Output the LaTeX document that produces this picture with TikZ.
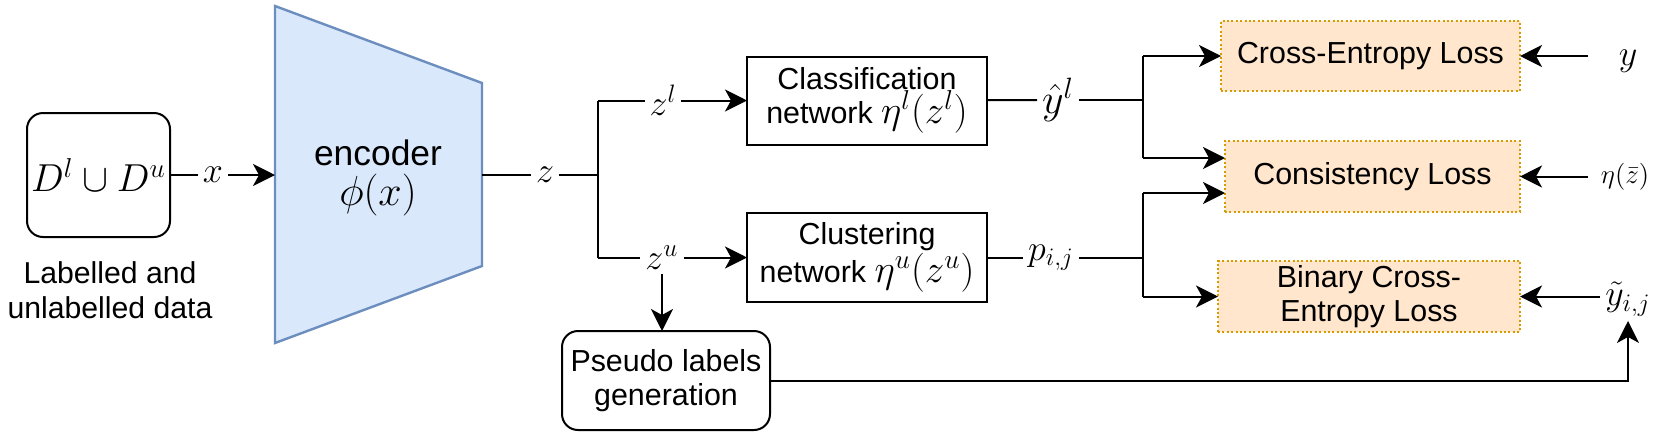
\documentclass[tikz,border=0pt]{standalone}
\usepackage{fix-cm}
\usepackage{amsmath,amssymb}
\usepackage{fontspec}
\setmainfont{Liberation Sans}
\usetikzlibrary{arrows.meta}
\definecolor{encfill}{HTML}{DAE8FC}
\definecolor{encdraw}{HTML}{6C8EBF}
\definecolor{lossfill}{HTML}{FFE6CC}
\definecolor{lossdraw}{HTML}{D79B00}
\newcommand\mth[1]{{\fontsize{19.5}{18}\selectfont$#1$}}
\tikzset{
  box/.style={draw, line width=1pt, inner sep=0pt, outer sep=0pt, align=center},
  rbox/.style={box, rounded corners=8pt},
  loss/.style={box, fill=lossfill, draw=lossdraw, dash pattern=on 1pt off 1.2pt, line width=1.1pt},
  lab/.style={inner sep=2pt, font=\fontsize{18}{20}\selectfont},
}
\begin{document}
\begin{tikzpicture}[x=0.5pt, y=-0.5pt, line width=1pt,
  >={Stealth[length=11pt,width=11pt,inset=3pt]},
  font=\fontsize{15.2}{17}\selectfont]
\useasboundingbox (0,0) rectangle (1659,435);
% data
\node[rbox, minimum width=71.5pt, minimum height=62pt] (data) at (98.5,175) {\mth{D^l\cup D^u}};
\node[align=center, font=\fontsize{15.1}{17.5}\selectfont] (datalab) at (110,290) {Labelled and\\unlabelled data};
% encoder
\fill[encfill] (275,6) -- (482,83) -- (482,266) -- (275,343) -- cycle;
\draw[encdraw, line width=1.2pt] (275,6) -- (482,83) -- (482,266) -- (275,343) -- cycle;
\coordinate (encin) at (275,175);
\coordinate (encout) at (482,175);
\node[align=center, font=\fontsize{17.7}{19}\selectfont] (enc) at (378,178) {encoder\\[1pt]{\fontsize{21}{21}\selectfont$\phi(x)$}};
\node[lab] (xl) at (213,175) {$x$};
\draw (data) -- (xl);
\draw[->] (xl) -- (encin);
% split z
\node[lab] (z) at (545,175) {$z$};
\draw (encout) -- (z);
\coordinate (bz) at (598,175);
\coordinate (bzt) at (598,100.5);
\coordinate (bzb) at (598,257.5);
\draw (z) -- (bz);
\draw (bzt) -- (bzb);
\node[box, minimum width=120pt, minimum height=44pt] (cls) at (867,100.5) {Classification\\network \mth{\eta^l(z^l)}};
\node[box, minimum width=120pt, minimum height=44.5pt] (clu) at (867,257.5) {Clustering\\network \mth{\eta^u(z^u)}};
\node[lab] (zl) at (663,100.5) {$z^l$};
\node[lab] (zu) at (662,257.5) {$z^u$};
\draw (bzt) -- (zl);
\draw[->] (zl) -- (cls);
\draw (bzb) -- (zu);
\draw[->] (zu) -- (clu);
\node[rbox, minimum width=104pt, minimum height=49.5pt] (pseudo) at (666,380.5) {Pseudo labels\\generation};
\draw[->] (zu.south) -- (zu.south |- pseudo.north);
% losses
\node[loss, minimum width=149.5pt, minimum height=35pt] (ce) at (1370.5,56) {Cross-Entropy Loss};
\node[loss, minimum width=147.5pt, minimum height=35.5pt] (cons) at (1372.5,176.5) {Consistency Loss};
\node[loss, minimum width=151pt, minimum height=35.5pt] (bce) at (1369,296.5) {Binary Cross-\\Entropy Loss};
% y hat
\node[lab, font=\fontsize{21}{22}\selectfont] (yh) at (1058,100) {$\hat{y}^l$};
\draw (cls) -- (yh);
\coordinate (b2) at (1143,100);
\coordinate (b2t) at (1143,56);
\coordinate (b2b) at (1143,158);
\draw (yh) -- (b2);
\draw (b2t) -- (b2b);
\draw[->] (b2t) -- (b2t -| ce.west);
\draw[->] (b2b) -- (b2b -| cons.west);
% p
\node[lab] (p) at (1051,257.5) {$p_{i,j}$};
\draw (clu) -- (p);
\coordinate (b3) at (1143,257.5);
\coordinate (b3t) at (1143,193);
\coordinate (b3b) at (1143,296.5);
\draw (p) -- (b3);
\draw (b3t) -- (b3b);
\draw[->] (b3t) -- (b3t -| cons.west);
\draw[->] (b3b) -- (bce);
% right inputs
\node[lab] (yl) at (1628,61) {$y$};
\node[lab, font=\fontsize{13.5}{15}\selectfont] (eta) at (1625,177) {$\eta(\bar{z})$};
\node[lab] (yt) at (1628,299) {$\tilde{y}_{i,j}$};
\coordinate (yls) at (1588,56);
\coordinate (etas) at (1588,176.5);
\draw[->] (yls) -- (yls -| ce.east);
\draw[->] (etas) -- (etas -| cons.east);
\draw[->] (yt.west |- bce.east) -- (bce.east);
\draw[->] (pseudo.east) -| (yt.south);
\end{tikzpicture}
\end{document}
